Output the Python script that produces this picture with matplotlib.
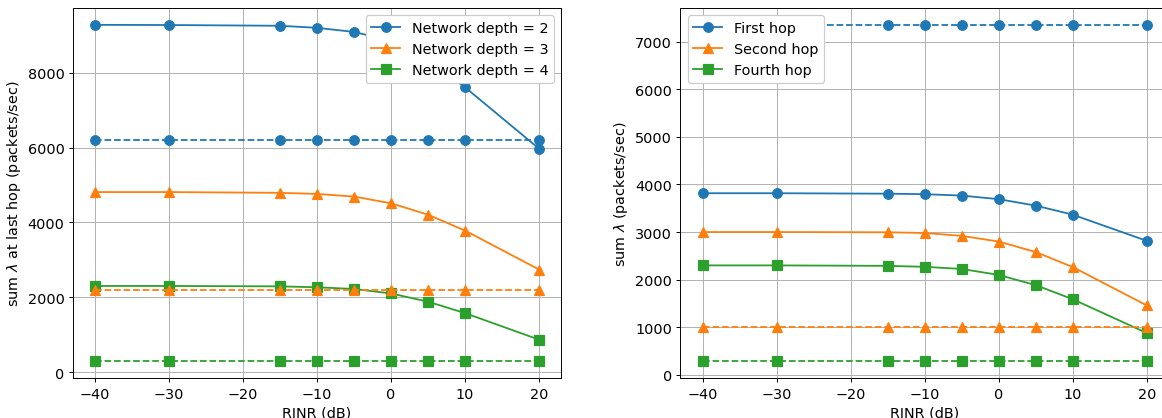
import matplotlib
matplotlib.use('Agg')
import matplotlib.pyplot as plt

rinr = [-40, -30, -15, -10, -5, 0, 5, 10, 20]

# left panel: sum lambda at last hop
depth2 = [9280, 9275, 9255, 9200, 9090, 8850, 8350, 7610, 5970]
depth3 = [4810, 4810, 4790, 4760, 4690, 4510, 4205, 3780, 2740]
depth4 = [2300, 2300, 2290, 2265, 2220, 2100, 1880, 1575, 865]
depth2_dash = [6210] * 9
depth3_dash = [2200] * 9
depth4_dash = [285] * 9
left_labels = ['Network depth = 2', 'Network depth = 3', 'Network depth = 4']

# right panel: sum lambda per hop
hop1 = [3815, 3815, 3805, 3795, 3765, 3690, 3555, 3365, 2815]
hop2 = [3000, 3000, 2995, 2980, 2920, 2800, 2580, 2265, 1460]
hop4 = [2300, 2300, 2290, 2270, 2225, 2100, 1885, 1590, 880]
hop1_dash = [7350] * 9
hop2_dash = [1000] * 9
hop4_dash = [285] * 9
right_labels = ['First hop', 'Second hop', 'Fourth hop']

plt.rcParams['font.size'] = 12
colors = ['#1f77b4', '#ff7f0e', '#2ca02c']
markers = ['o', '^', 's']

DPI = 86.4
fig = plt.figure(figsize=(1162 / DPI, 419 / DPI), dpi=DPI)
ax1 = fig.add_axes([0.0628, 0.095, 0.4202, 0.8835])
ax2 = fig.add_axes([0.5856, 0.095, 0.4204, 0.8835])

for y, lab, c, m in zip([depth2, depth3, depth4], left_labels, colors, markers):
    ax1.plot(rinr, y, color=c, marker=m, markersize=8, label=lab)
for y, c, m in zip([depth2_dash, depth3_dash, depth4_dash], colors, markers):
    ax1.plot(rinr, y, color=c, marker=m, markersize=8, linestyle='--')
ax1.set_xlabel('RINR (dB)')
ax1.set_ylabel(r'sum $\lambda$ at last hop (packets/sec)')
ax1.grid(True)
ax1.legend(loc='upper right', framealpha=1)

for y, lab, c, m in zip([hop1, hop2, hop4], right_labels, colors, markers):
    ax2.plot(rinr, y, color=c, marker=m, markersize=8, label=lab)
for y, c, m in zip([hop1_dash, hop2_dash, hop4_dash], colors, markers):
    ax2.plot(rinr, y, color=c, marker=m, markersize=8, linestyle='--')
ax2.set_xlabel('RINR (dB)')
ax2.set_ylabel(r'sum $\lambda$ (packets/sec)')
ax2.grid(True)
ax2.legend(loc='upper left', framealpha=1)

fig.savefig('out.png', dpi=DPI)
